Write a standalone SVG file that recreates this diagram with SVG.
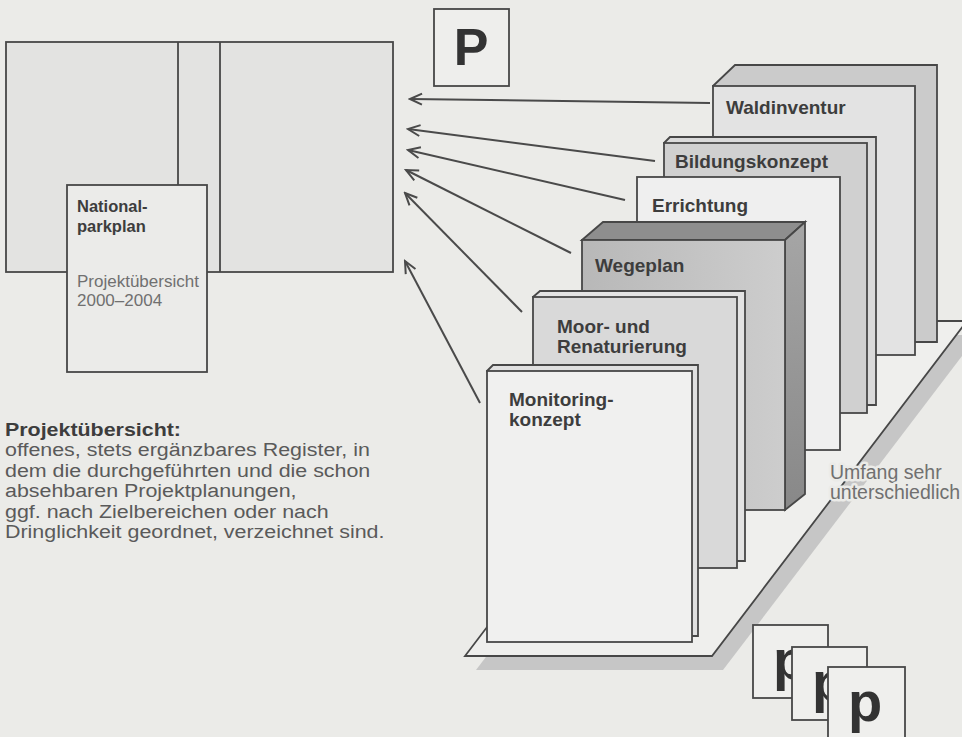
<svg xmlns="http://www.w3.org/2000/svg" width="962" height="737" viewBox="0 0 962 737">
<defs>
<style>
.ln{stroke:#474747;stroke-width:1.8;stroke-linejoin:miter}
.lbl{font-family:"Liberation Sans",Arial,sans-serif;font-weight:bold;font-size:19px;fill:#3d3d3d}
.body{font-family:"Liberation Sans",Arial,sans-serif;font-size:18px;fill:#5a5a5a}
.bodyb{font-family:"Liberation Sans",Arial,sans-serif;font-size:18px;font-weight:bold;fill:#3d3d3d}
.cardb{font-family:"Liberation Sans",Arial,sans-serif;font-size:16.5px;font-weight:bold;fill:#3d3d3d}
.cardr{font-family:"Liberation Sans",Arial,sans-serif;font-size:17px;fill:#707070}
.note{font-family:"Liberation Sans",Arial,sans-serif;font-size:19.5px;fill:#707070;stroke:#ebebe8;stroke-width:5;paint-order:stroke;stroke-linejoin:round}
.big{font-family:"Liberation Sans",Arial,sans-serif;font-weight:bold;fill:#333}
.arr{stroke:#4a4a4a;stroke-width:2;fill:none;marker-end:url(#ah)}
</style>
<marker id="ah" viewBox="-13 -7 15 14" markerWidth="15" markerHeight="14" refX="0" refY="0" markerUnits="userSpaceOnUse" orient="auto">
<path d="M-12,-5.5 L0,0 L-12,5.5" fill="none" stroke="#4a4a4a" stroke-width="2"/>
</marker>
<linearGradient id="wgF" x1="0" y1="0" x2="1" y2="0"><stop offset="0" stop-color="#b8b8b8"/><stop offset="1" stop-color="#cdcdcd"/></linearGradient>
<linearGradient id="wgS" x1="0" y1="0" x2="0" y2="1"><stop offset="0" stop-color="#a6a6a6"/><stop offset="1" stop-color="#888888"/></linearGradient>
</defs>
<rect x="0" y="0" width="962" height="737" fill="#ebebe8"/>

<g id="nationalparkplan">
<rect x="6" y="42" width="387" height="230" fill="#e3e3e1" class="ln"/>
<line x1="178" y1="42" x2="178" y2="185" class="ln"/>
<line x1="220" y1="42" x2="220" y2="272" class="ln"/>
</g>
<g id="card">
<rect x="67" y="185" width="140" height="187" fill="#ebebe9" class="ln"/>
<text x="77" y="212" class="cardb">National-</text>
<text x="77" y="232" class="cardb">parkplan</text>
<text x="77" y="287" class="cardr">Projektübersicht</text>
<text x="77" y="306" class="cardr">2000–2004</text>
</g>

<g id="pbox">
<rect x="434" y="9" width="75" height="77" fill="#eeeeec" class="ln"/>
<text x="471" y="65" text-anchor="middle" font-size="52" class="big">P</text>
</g>

<g id="description" transform="translate(5,0) scale(1.19,1)">
<text x="0" y="436" class="bodyb">Projektübersicht:</text>
<text x="0" y="456.5" class="body">offenes, stets ergänzbares Register, in</text>
<text x="0" y="477" class="body">dem die durchgeführten und die schon</text>
<text x="0" y="497.5" class="body">absehbaren Projektplanungen,</text>
<text x="0" y="518" class="body">ggf. nach Zielbereichen oder nach</text>
<text x="0" y="538.5" class="body">Dringlichkeit geordnet, verzeichnet sind.</text>
</g>

<g id="platform">
<polygon points="476,670 723,670 978,335 731,335" fill="#c6c6c6"/>
<polygon points="465,656 712,656 967,321 720,321" fill="#efefed" class="ln"/>
</g>

<g id="waldinventur">
<polygon points="713,86 735,65 937,65 937,342 915,342" fill="#cbcbcb" class="ln"/>
<rect x="713" y="86" width="202" height="269" fill="#e3e3e3" class="ln"/>
<text x="726" y="114" class="lbl">Waldinventur</text>
</g>

<g id="bildungskonzept">
<polygon points="664,143 670,137 876,137 876,405 867,405" fill="#dadada" class="ln"/>
<rect x="664" y="143" width="203" height="270" fill="#d0d0d0" class="ln"/>
<text x="675" y="168" class="lbl">Bildungskonzept</text>
</g>

<g id="errichtung">
<rect x="637" y="177" width="203" height="273" fill="#efefef" class="ln"/>
<text x="652" y="212" class="lbl">Errichtung</text>
</g>

<g id="wegeplan">
<polygon points="582,240 603,222 805,222 785,240" fill="#8e8e8e" class="ln"/>
<polygon points="785,240 805,222 805,494 785,510" fill="url(#wgS)" class="ln"/>
<rect x="582" y="240" width="203" height="270" fill="url(#wgF)" class="ln"/>
<text x="595" y="272" class="lbl">Wegeplan</text>
</g>

<g id="moor">
<polygon points="533,297 540,291 745,291 745,561 737,561" fill="#e3e3e3" class="ln"/>
<rect x="533" y="297" width="204" height="271" fill="#d9d9d9" class="ln"/>
<text x="557" y="333" class="lbl">Moor- und</text>
<text x="557" y="353" class="lbl">Renaturierung</text>
</g>

<g id="monitoring">
<polygon points="487,371 493,365 698,365 698,636 692,636" fill="#e0e0e0" class="ln"/>
<rect x="487" y="371" width="205" height="271" fill="#f0f0ef" class="ln"/>
<text x="509" y="406" class="lbl">Monitoring-</text>
<text x="509" y="426" class="lbl">konzept</text>
</g>

<g id="umfang">
<text x="830" y="479" class="note">Umfang sehr</text>
<text x="830" y="499" class="note">unterschiedlich</text>
</g>

<g id="pstack">
<rect x="753" y="625" width="75" height="73" fill="#efefed" class="ln"/>
<text x="773" y="679" font-size="56" class="big">p</text>
<rect x="792" y="647" width="75" height="73" fill="#efefed" class="ln"/>
<text x="812" y="701" font-size="56" class="big">p</text>
<rect x="828" y="667" width="77" height="80" fill="#efefed" class="ln"/>
<text x="848" y="721" font-size="56" class="big">p</text>
</g>

<g id="connectors">
<line x1="710" y1="103" x2="410" y2="99" class="arr"/>
<line x1="655" y1="161" x2="408" y2="129" class="arr"/>
<line x1="625" y1="200" x2="408" y2="150" class="arr"/>
<line x1="571" y1="253" x2="406" y2="170" class="arr"/>
<line x1="522" y1="312" x2="405" y2="193" class="arr"/>
<line x1="480" y1="403" x2="405" y2="261" class="arr"/>
</g>
</svg>
